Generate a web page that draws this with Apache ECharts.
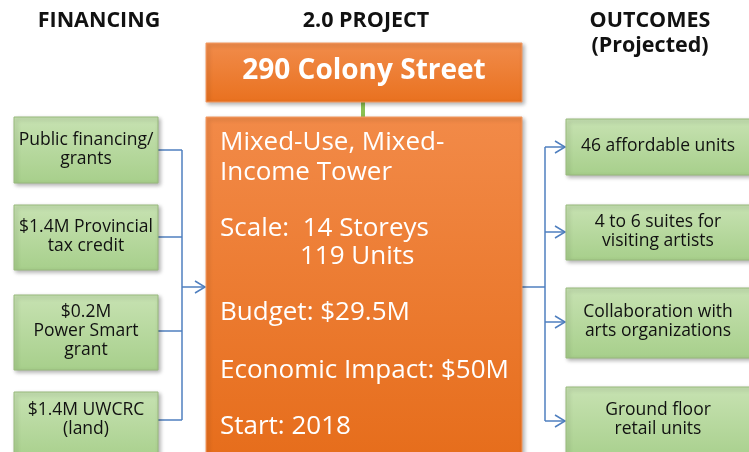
<!DOCTYPE html>
<html><head><meta charset="utf-8">
<script src="https://cdn.jsdelivr.net/npm/echarts@6/dist/echarts.min.js"></script>
<style>html,body{margin:0;padding:0;background:#fff}#c{width:749px;height:452px}</style>
</head><body><div id="c"></div>
<script>
// ---- data (text content) ----
const columnHeaders = ["FINANCING", "2.0 PROJECT", "OUTCOMES\n(Projected)"];
const projectTitle = "290 Colony Street";
const projectDetails = ["Mixed-Use, Mixed-", "Income Tower", "Scale:  14 Storeys", "119 Units", "Budget: $29.5M", "Economic Impact: $50M", "Start: 2018"];
const financing = ["Public financing/\ngrants", "$1.4M Provincial\ntax credit", "$0.2M\nPower Smart\ngrant", "$1.4M UWCRC\n(land)"];
const outcomes = ["46 affordable units", "4 to 6 suites for\nvisiting artists", "Collaboration with\narts organizations", "Ground floor\nretail units"];

// ---- layout ----
const FONT = '"Open Sans", sans-serif';
const finBoxes = [[14,117,144,66],[14,205,144,65],[14,295,144,75],[14,392,144,70]];
const finTextY = [150,237,331,420];
const outBoxes = [[566,119,200,56],[566,205,200,55],[566,288,200,70],[566,387,200,75]];
const outTextY = [146,232,322,420];
const outArrowY = [147,232,322,421];
const detailPos = [[220,143],[220,173],[220,229],[300,257],[220,313],[220,371],[220,427]];
const lineColor = '#4f7fbf';

const greenFill = {type:'linear',x:0,y:0,x2:0,y2:1,colorStops:[{offset:0,color:'#c7e2b2'},{offset:1,color:'#a7cf8b'}]};
const orangeFill = {type:'linear',x:0,y:0,x2:0,y2:1,colorStops:[{offset:0,color:'#f18c4b'},{offset:1,color:'#e9711f'}]};
const orangeFill2 = {type:'linear',x:0,y:0,x2:0,y2:1,colorStops:[{offset:0,color:'#f28a48'},{offset:1,color:'#e66d1b'}]};

const els = [];
function box(x,y,w,h,fill,stroke){
  els.push({type:'rect',shape:{x,y,width:w,height:h},style:{fill,stroke,lineWidth:1,shadowBlur:4,shadowOffsetX:2,shadowOffsetY:2,shadowColor:'rgba(0,0,0,0.3)'}});
}
function text(x,y,t,size,color,weight,align,lh){
  els.push({type:'text',x,y,style:{text:t,font:(weight||'normal')+' '+size+'px '+FONT,fill:color,textAlign:align||'center',textVerticalAlign:'middle',lineHeight:lh||Math.round(size*1.25)}});
}
function line(pts){
  els.push({type:'polyline',shape:{points:pts},style:{stroke:lineColor,lineWidth:1.5,fill:null}});
}
function arrow(x,y){ // arrowhead pointing right ending at x
  els.push({type:'polyline',shape:{points:[[x-10,y-6],[x,y],[x-10,y+6]]},style:{stroke:lineColor,lineWidth:1.5,fill:null}});
}

// headers
text(99,21,columnHeaders[0],21.5,'#111','bold');
text(366,21,columnHeaders[1],21.5,'#111','bold');
text(650,33,columnHeaders[2],21.5,'#111','bold','center',25);

// connectors left
finTextY.forEach(y=>line([[158,y],[182,y]]));
line([[182,finTextY[0]],[182,finTextY[3]]]);
line([[182,287],[205,287]]); arrow(205,287);
// connectors right
line([[522,287],[545,287]]);
line([[545,outArrowY[0]],[545,outArrowY[3]]]);
outArrowY.forEach(y=>{line([[545,y],[565,y]]);arrow(565,y);});

// green connector
els.push({type:'rect',shape:{x:361,y:102,width:4,height:15},style:{fill:'#8cc152'}});

// boxes
box(206,43,316,59,orangeFill,'#f39a62');
box(206,117,316,345,orangeFill2,'#f39a62');
finBoxes.forEach(b=>box(b[0],b[1],b[2],b[3],greenFill,'#98b97c'));
outBoxes.forEach(b=>box(b[0],b[1],b[2],b[3],greenFill,'#98b97c'));

// texts
text(364,71,projectTitle,28,'#fff','bold');
projectDetails.forEach((t,i)=>text(detailPos[i][0],detailPos[i][1],t,26,'#fff','normal','left'));
financing.forEach((t,i)=>text(86,finTextY[i],t,17.5,'#111','normal','center',19));
outcomes.forEach((t,i)=>text(658,outTextY[i],t,17.5,'#111','normal','center',19));

const chart = echarts.init(document.getElementById('c'));
chart.setOption({animation:false,graphic:{elements:els}});
</script></body></html>
